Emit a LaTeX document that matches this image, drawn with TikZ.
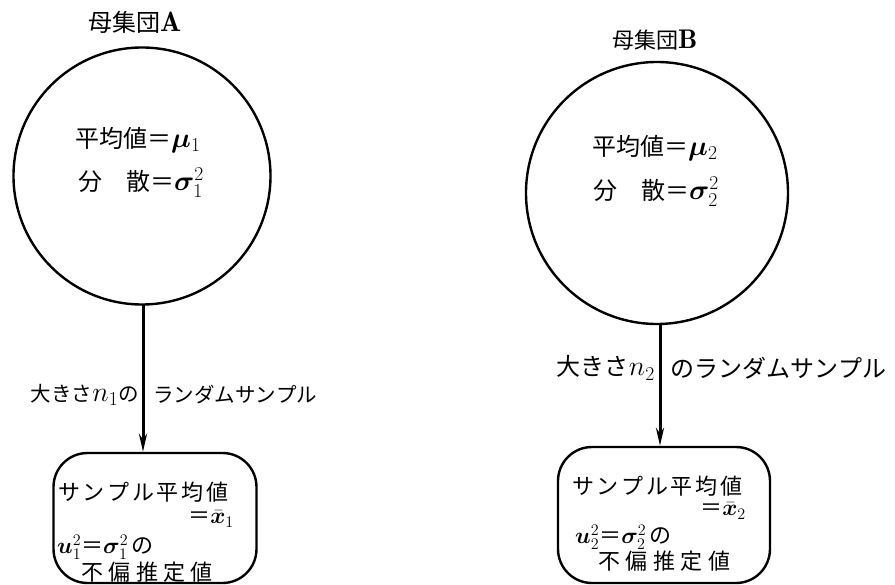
\RequirePackage{fix-cm}
\documentclass[tikz,border=0pt]{standalone}
\usepackage{fontspec}
\usepackage{bm}
\usetikzlibrary{arrows.meta}
\newfontfamily\jp[Kerning=Off]{Noto Sans CJK JP}
\newfontfamily\jpb[Kerning=Off,LetterSpace=12]{Noto Sans CJK JP}
\newfontfamily\jpw[Kerning=Off,LetterSpace=25]{Noto Sans CJK JP}
\newcommand\mth[1]{{\fontsize{28}{31}\selectfont$#1$}}
\newcommand\mthb[1]{{\fontsize{23}{26}\selectfont$#1$}}
\newcommand\mths[1]{{\fontsize{27}{30}\selectfont$#1$}}
\tikzset{
 popc/.style={circle, draw, line width=2.4pt, minimum size=257pt, inner sep=0},
 sbox/.style={draw, line width=2.4pt, rounded corners=34pt, inner sep=0},
 txt/.style={inner sep=0, font=\jp\fontsize{24}{27}\selectfont},
 txtb/.style={inner sep=0, font=\jpb\fontsize{22}{25}\selectfont},
 txtw/.style={inner sep=0, font=\jpw\fontsize{22}{25}\selectfont},
 lbla/.style={inner sep=0, font=\jp\fontsize{20.5}{24}\selectfont},
 lblb/.style={inner sep=0, font=\jp\fontsize{24}{27}\selectfont},
 ttla/.style={inner sep=0, font=\jp\fontsize{24}{28}\selectfont},
 ttlb/.style={inner sep=0, font=\jp\fontsize{22}{26}\selectfont},
 arr/.style={line width=3pt, -{Stealth[length=18pt,width=8pt]}},
}
\begin{document}
\begin{tikzpicture}[x=1pt,y=-1pt]
\useasboundingbox (0,0) rectangle (895,585);
% population A
\node[ttla, anchor=west] (tA) at (88,22) {母集団\mth{\mathbf{A}}};
\node[popc] (A) at (142,176) {};
\node[txt, anchor=west] (A1) at (75,140) {平均値＝\mth{\bm{\mu}_{1}}};
\node[txt, anchor=west] (A2) at (78,183) {分　散＝\mth{\bm{\sigma}_{1}^{2}}};
% population B
\node[ttlb, anchor=west] (tB) at (612,40) {母集団\mths{\mathbf{B}}};
\node[popc, minimum size=262pt] (B) at (657,193) {};
\node[txt, anchor=west] (B1) at (592,148) {平均値＝\mth{\bm{\mu}_{2}}};
\node[txt, anchor=west] (B2) at (593,192) {分　散＝\mth{\bm{\sigma}_{2}^{2}}};
% sample boxes
\node[sbox, minimum width=203pt, minimum height=130pt] (sA) at (155,518) {};
\node[sbox, minimum width=212pt, minimum height=136pt] (sB) at (664,515) {};
\node[txtb, anchor=west] (sA1) at (58,492) {サンプル平均値};
\node[txtb, anchor=east] (sA2) at (234,519) {＝\mthb{\bar{\bm{x}}_{1}}};
\node[txtb, anchor=west] (sA3) at (57,547) {\mthb{\bm{u}_{1}^{2}}＝\mthb{\bm{\sigma}_{1}^{2}}\,の};
\node[txtw] (sA4) at (147,572) {不偏推定値};
\node[txtb, anchor=west] (sB1) at (572,486) {サンプル平均値};
\node[txtb, anchor=east] (sB2) at (746,511) {＝\mthb{\bar{\bm{x}}_{2}}};
\node[txtb, anchor=west] (sB3) at (575,537) {\mthb{\bm{u}_{2}^{2}}＝\mthb{\bm{\sigma}_{2}^{2}}\,の};
\node[txtw] (sB4) at (664,561) {不偏推定値};
% arrows
\coordinate (aA) at (143,305);
\coordinate (aB) at (660,324);
\draw[arr] (aA) -- (aA |- sA.north);
\draw[arr] (aB) -- (aB |- sB.north);
% labels
\node[lbla, anchor=east] (lA1) at (139,395) {大きさ\mth{n_{1}}の};
\node[lbla, anchor=west] (lA2) at (153,395) {ランダムサンプル};
\node[lblb, anchor=east] (lB1) at (655,368) {大きさ\mth{n_{2}}};
\node[lblb, anchor=west] (lB2) at (670,368) {のランダムサンプル};
\end{tikzpicture}
\end{document}
